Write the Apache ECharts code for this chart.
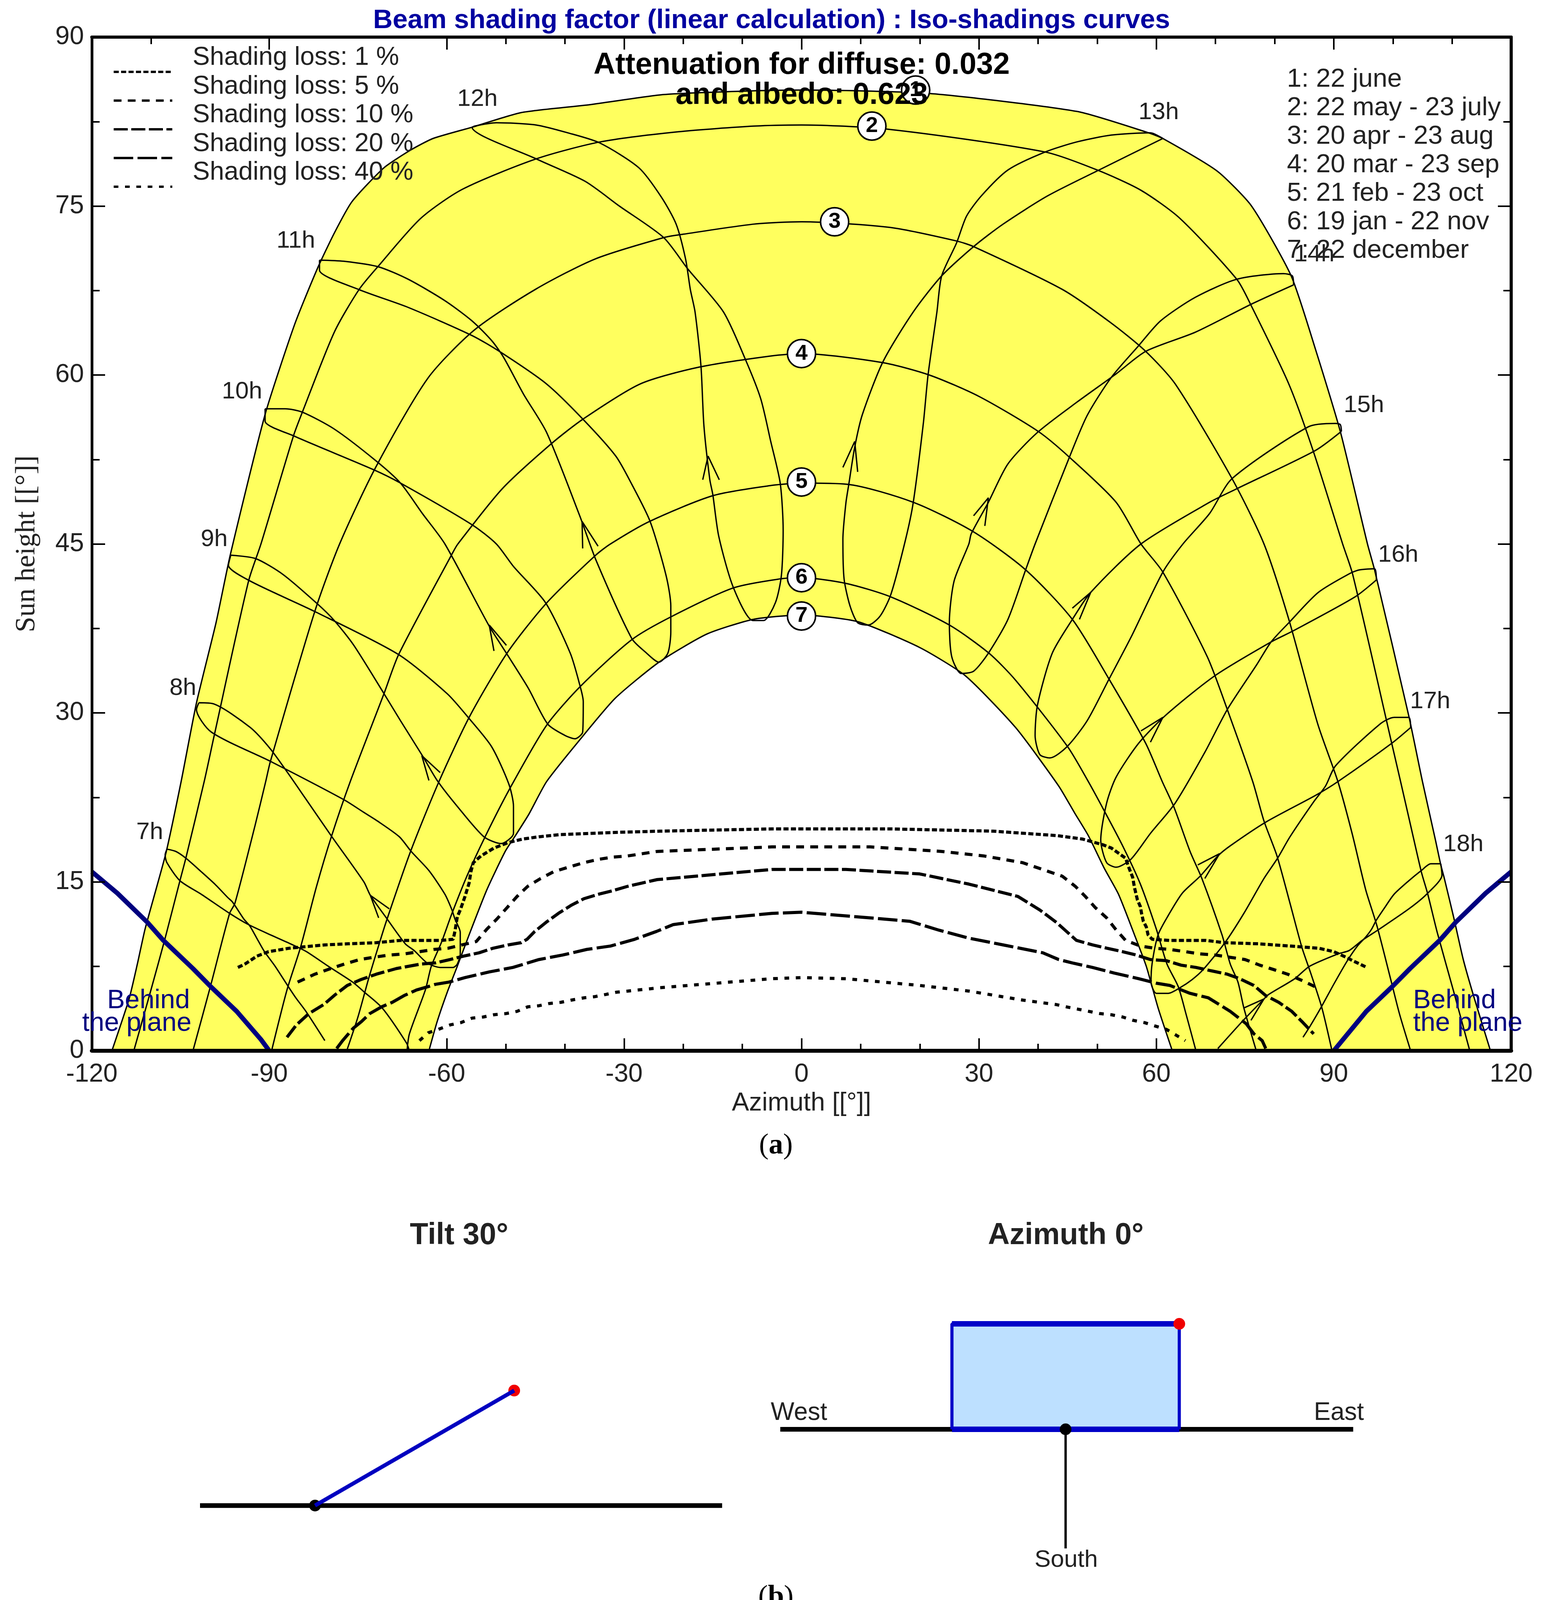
<!DOCTYPE html>
<html lang="en">
<head>
<meta charset="UTF-8">
<title>Beam shading factor</title>
<style>
    html, body { margin: 0; padding: 0; background: #fff; }
    #chart { width: 3952px; height: 4160px; }
</style>
</head>
<body>
<div id="chart"></div>
<script src="https://cdn.jsdelivr.net/npm/echarts@6/dist/echarts.min.js"></script>
<script>
// sun paths, [azimuth, height]
var curve1 = [[-116.6,0],[-113.7,4.6],[-112.3,7.7],[-111,10.8],[-109,14.6],[-107.4,17.7],[-104.9,23.9],[-102.3,30.9],[-99,38],[-96.6,44],[-90.7,56.5],[-85.7,64.5],[-81.9,69.4],[-79,72.6],[-76,75.4],[-70.6,78.4],[-66,80],[-62.3,81],[-55.7,82],[-47.4,83.3],[-35.8,84],[-23.3,84.9],[-10,85.2],[0,85.3],[21.6,85],[46.6,83.4],[58.7,81.5],[61.1,81],[70.3,78.1],[76.1,75],[82.8,68.8],[86.9,62.3],[91.1,55],[95.7,45],[96.9,42.7],[102.7,29.7],[105,23.9],[107.2,18.7],[108.1,16.5],[108.7,15.3],[110.3,11.8],[111.9,8.1],[113.8,4.6],[116.5,0]];
var curve2 = [[-112.9,0],[-110,5.4],[-107.6,10],[-105.1,15.1],[-104.1,17.1],[-101,23.9],[-99.3,28],[-93.5,41.7],[-91.4,45],[-85.9,54.6],[-84.4,56.7],[-79,63.8],[-74.8,67.6],[-71.5,69.7],[-64.4,73.9],[-57.3,76.5],[-44.8,79.2],[-34,80.7],[-20.8,81.6],[-8,82.1],[0,82.2],[15,81.8],[41.2,79.8],[50,78.2],[57.4,76.4],[64,73.9],[73.6,68.5],[76,66.2],[82.4,59.2],[86.5,53.3],[91.5,45],[93.2,42.3],[99.8,27.3],[101.3,23.9],[103,20],[104.8,15.9],[105.9,13.9],[107.5,10.5],[110.2,5.4],[113,0]];
var curve3 = [[-102.9,0],[-99.9,5.8],[-96.7,12.2],[-95.8,13.1],[-92.4,20],[-90.6,23.9],[-89.8,25.7],[-82.3,39],[-78.1,45],[-72,51.8],[-63.2,59.7],[-55.3,64],[-45,67.6],[-34.9,70.3],[-23.3,72.2],[-20,72.5],[-8,73.4],[0,73.6],[15,73.1],[26.2,71.9],[29.1,71.4],[44.1,67.6],[52.4,64.6],[58.2,62.1],[63.2,59.2],[72.8,50.8],[78.2,45],[82.4,38.3],[87.3,29],[90.7,23.9],[93.1,19.3],[95.4,14.3],[97.3,11.1],[99.6,6.4],[101.1,3.3],[103,0]];
var curve4 = [[-89.6,0],[-87,5.4],[-84.7,9.2],[-82,14.6],[-79.5,19],[-76.3,23.9],[-70.6,31.7],[-68.1,35.2],[-59,44.2],[-58.1,45],[-50.6,49.9],[-42.3,53.9],[-36.9,56.1],[-27.3,59.2],[-17.3,60.7],[-5,61.7],[0,61.9],[13.7,61.1],[21.6,60],[30,58.1],[40,55],[45.3,52.7],[53.2,48.7],[57.4,45],[61.1,42.5],[68.6,35],[72,30.3],[76.3,23.9],[78.2,20.4],[80.4,17.3],[82.6,13.1],[84.6,9.2],[86.1,6.9],[88,3.8],[89.7,0]];
var curve5 = [[-76.9,0],[-75,3],[-73.2,6.4],[-71.7,9],[-70.2,11.5],[-66.1,17.7],[-61.3,23.9],[-56.1,29.7],[-49.8,35.3],[-43.2,39.7],[-34.8,44],[-32.3,45],[-25.7,47],[-14.9,49.3],[-5,50.2],[0,50.4],[7.7,50.3],[18.9,48.7],[29,46.1],[37.9,42.7],[45.8,38.3],[52,33],[58.2,27.3],[61,23.9],[63,21.6],[65.7,17.7],[67.7,15.3],[71.1,10.3],[72.5,7.7],[73.8,6.1],[74.8,3.8],[76.9,0]];
var curve6 = [[-66.7,0],[-66.3,1.5],[-63.6,5.4],[-62.6,7.5],[-60.9,9.6],[-59.1,12.2],[-56.5,15.6],[-53.5,19],[-49.3,23.3],[-43.1,28.9],[-37.3,32.4],[-28.7,36.5],[-21.8,38.6],[-11.5,41.1],[-3.6,41.9],[0,42],[7.5,41.5],[15.1,40.3],[25,37.8],[31.7,35.3],[36.2,32.9],[45,27],[48.5,23.9],[51.2,21.3],[54.3,18.2],[57.3,14.8],[60,10.8],[61.8,7.7],[63.7,5.7],[65,3.3],[66.7,0]];
var curve7 = [[-63,0],[-61.6,2.6],[-59.9,5.2],[-58.2,7.5],[-56.2,10.3],[-53.2,14.3],[-50.1,17.7],[-48.5,19],[-46.1,21],[-43.1,23.9],[-37.5,27.6],[-31.5,31.3],[-24.1,34.5],[-16,37],[-8.2,38.3],[0,38.7],[9.5,38.1],[20,35.8],[27.7,33.3],[36.2,28.7],[43.5,23.5],[46.2,21.1],[48.5,19.1],[51.2,16.2],[53.6,13.9],[56.3,10.3],[58.3,7.5],[60.3,3.8],[62.7,0]];

// hour loops
var hour7a = [[-107.3,17.9],[-105.8,17.7],[-104.1,17.1],[-101.5,15.9],[-99.2,14.8],[-97,13.6],[-96.2,13.2],[-94.3,11.7],[-93.3,11.1],[-91.9,9.8],[-90.8,8.8],[-89,7.5],[-86.9,5.8],[-85.5,4.7],[-83.8,3.5],[-80.6,0.9]];
var hour7b = [[-107.3,17.9],[-107.6,17.4],[-107.3,16.7],[-105.1,15.1],[-101.5,13.9],[-96.7,12.2],[-93.5,11.2],[-89.4,10.2],[-86,9.4],[-83.7,8.8],[-80,7.5],[-75.9,6.1],[-73.9,5.2],[-70.9,3.8],[-66.8,0.7],[-66.3,0]];
var hour8 = [[-101.9,30.9],[-99.4,30.8],[-93.2,28.7],[-89.8,26.8],[-86.9,24.7],[-84,22.5],[-79.4,19],[-74,15],[-72.9,13.8],[-70.2,11.8],[-67,9.5],[-65.5,8.9],[-63.3,7.8],[-61.1,7.4],[-58.9,7.4],[-58.2,7.7],[-57.7,8.6],[-57.7,10.5],[-58.6,11.7],[-59.1,12.5],[-60.3,13.9],[-63,16],[-66,17.7],[-68,19],[-71.7,20.4],[-74.1,21.2],[-77.4,22.3],[-89.8,25.7],[-99.8,28.3],[-102.3,30.3],[-101.9,30.9]];
var hour9 = [[-96.5,44],[-92.3,43.7],[-87.7,42.3],[-81.9,39.7],[-79,38.2],[-75.7,36],[-70.7,31.8],[-67.8,29.3],[-64.1,26.2],[-61.6,24],[-58.2,21.7],[-53.7,19],[-50.8,18.4],[-48.7,19.3],[-48.7,21.7],[-49.5,23.7],[-52.4,27],[-56.2,29.5],[-59.9,31.7],[-68.2,35.2],[-82.3,39],[-93.2,41.7],[-96.9,43.1],[-96.5,44]];
var hour10 = [[-90.7,57],[-87.3,57],[-84.4,56.7],[-79,55.2],[-72,52.4],[-67.8,50.4],[-64.1,47.7],[-60.3,45],[-52.8,37.7],[-49.9,35.3],[-46.2,32.2],[-42.9,29],[-40,28],[-38.3,27.7],[-37,28.3],[-36.9,31],[-37.5,32.5],[-39.1,35.3],[-43.3,39.8],[-48.7,43],[-51.6,45],[-55.7,46.7],[-67.8,50.4],[-72.4,51.6],[-85.9,54.6],[-90.7,55.9],[-90.7,57]];
var hour11 = [[-81.5,70.2],[-77.4,70.1],[-71.5,69.6],[-66.5,68.5],[-60.3,66.6],[-55.7,64.8],[-52.3,63],[-50.3,61.5],[-47,58.3],[-43.1,54.9],[-37.5,47.5],[-34.7,43.5],[-28.7,36.6],[-26.4,35.4],[-24.1,34.5],[-22.6,35.3],[-22.1,37.2],[-22.1,39.5],[-22.9,42.2],[-25.6,47],[-28.7,50.3],[-31.4,52.8],[-37,56.1],[-43.1,59.2],[-50.8,62],[-55.7,63.5],[-66.5,66],[-74.9,67.6],[-81.5,69.3],[-81.5,70.2]];
var hour12 = [[-55.3,82.1],[-51.6,82.4],[-44.9,82.2],[-39.5,81.5],[-34.1,80.6],[-27.5,78.4],[-23.7,75.8],[-21.2,73.4],[-19.6,70.3],[-18.8,67.6],[-18,65.6],[-17,60.8],[-16.5,55.5],[-15.5,50.7],[-15,49.4],[-14,45.7],[-11.5,41.1],[-8.2,38.2],[-6.4,38.2],[-4.4,39.8],[-3.4,42.2],[-3.1,46.2],[-3.6,50.4],[-5.2,54.1],[-6.9,57.9],[-9.5,61.4],[-13.2,65.6],[-19.2,69.4],[-23.3,72.2],[-30.8,75],[-36.6,77.2],[-44.9,79.2],[-55.7,82],[-55.3,82.1]];
var hour13 = [[61.1,81],[50.3,78.2],[41.6,75.9],[34.1,73.4],[29.1,71.4],[23.7,68.8],[18.9,65.6],[13.8,61.2],[10.3,56.5],[9,53.6],[8,50.3],[7.5,48.6],[7,45.4],[7.2,41.9],[8.2,39.5],[9.5,38],[11.3,37.8],[13.3,38.6],[15.1,40.5],[17.6,45.4],[18.9,48.7],[20.6,55.7],[21.4,60],[22.9,65.6],[23.7,68.8],[26.2,71.7],[27.9,74.1],[30.4,75.9],[34.9,78.2],[41.2,79.8],[46.6,80.7],[52.4,81.3],[59,81.5],[61.1,81]];
var hour14 = [[83.2,68],[76.1,66.3],[66.6,63.8],[58.2,62.1],[53.2,60.1],[46.6,57.6],[39.9,54.9],[34.9,52.1],[31.6,48.7],[28.7,45.9],[28.3,45],[25.8,41.7],[25,38],[25.4,35],[27,33.5],[29.1,33.7],[31.6,35.3],[34.9,38.3],[37.9,42.7],[39.5,45],[45.3,52.7],[48.3,56.4],[52.4,59.8],[57,62.6],[60.7,64.8],[66.6,66.9],[73.6,68.5],[81.5,69],[83,68.8],[83.2,68]];
var hour15 = [[91.3,55],[86.9,53.3],[73.6,49.9],[69,48.7],[57.4,45],[48.9,40.7],[45.8,38.3],[42.4,35.3],[39.9,30.7],[39.5,28],[40.3,26.3],[42,26],[44.9,27],[48.3,29.3],[52,33],[55.7,36.7],[61.1,42.5],[64.5,45],[69,47.7],[72.8,50.8],[85.7,55.4],[90.3,55.7],[91.1,55.6],[91.3,55]];
var hour16 = [[97.2,41.8],[93.6,40.3],[83.2,37.3],[79.4,36.3],[69.9,33.3],[61.6,29.8],[57,27.3],[53.2,24.3],[51.6,22],[50.6,18.7],[51.6,16.7],[53.2,16.3],[55.7,17],[59,19.3],[63.2,22],[68.2,26.5],[72,30.3],[77,34.3],[79.4,36.3],[82.4,38],[87.4,40.7],[92.8,42.4],[94.4,42.7],[96.9,42.8],[97.2,41.8]];
var hour17 = [[103,28.7],[99.8,27.3],[90.7,23.9],[87,22.7],[78.5,20.3],[72.5,18.2],[70.4,17.3],[67.4,15.5],[64.4,14],[62,12],[60.3,10.3],[59.3,7.8],[59.1,6.1],[60,5.1],[62,5.1],[64,5.6],[66,6.3],[67.9,7.2],[71.6,9.6],[74.8,12.2],[78.2,15.3],[80.5,17.1],[82.6,19],[86.6,22.1],[88.6,23.5],[90.3,25.3],[97.8,29],[100.2,29.6],[102.7,29.6],[103,28.7]];
var hour18a = [[108.1,16.6],[106.4,16.6],[104.8,16],[102.7,15.1],[100.2,13.9],[98.6,12.7],[97.2,11.6],[96.4,10.8],[95.4,10.1],[94,9.3],[92.3,8],[90.1,6],[87.8,3.8],[85.9,2.1],[84.8,1.2]];
var hour18b = [[108.1,16.6],[108.3,15.6],[105.7,13.9],[102.7,12.6],[97.7,10.8],[94.8,9.8],[92.6,8.9],[90.7,8.6],[85.9,7.5],[83.4,6.4],[79,5],[78.2,4.6],[74.7,2.7],[70.4,0.2]];

// small arrow heads on the hour loops: barb, tip, barb
var arrowHeads = [
    [[-71.5,11.8],[-72.9,13.8],[-69.7,12.6]],
    [[-63,24],[-64.2,26.2],[-61.1,24.7]],
    [[-52,35.5],[-52.8,37.8],[-49.9,36]],
    [[-37,44.6],[-37.1,47],[-34.4,44.8]],
    [[-16.7,50.7],[-15.8,52.8],[-13.9,50.7]],
    [[7,51.8],[9,54.1],[9.5,51.4]],
    [[29.1,47.5],[31.6,49.1],[31,46.6]],
    [[45.8,39.3],[48.9,40.7],[47,38.3]],
    [[57.4,28.4],[61.1,29.6],[59,27.4]],
    [[67,16.5],[70.7,17.5],[68.2,15.3]],
    [[74.8,3.8],[78.2,4.6],[76,2.7]]
];

// iso-shading curves
var iso1 = [[-95.3,7.4],[-94.1,7.7],[-92.1,8.4],[-90.1,8.8],[-86.7,9.1],[-84.7,9.2],[-80.6,9.4],[-76.6,9.5],[-71.9,9.6],[-67.8,9.8],[-60.9,9.8],[-58.9,9.9],[-58.6,10.6],[-58.2,11.9],[-57.7,12.5],[-56.9,13.7],[-56.2,14.9],[-55.9,15.9],[-55.5,16.7],[-54.2,17.3],[-52,18],[-49.5,18.5],[-47.1,18.8],[-44.4,19],[-40.7,19.2],[-35.7,19.3],[-30.9,19.4],[-23.9,19.5],[-5,19.7],[15,19.7],[32.4,19.5],[43.3,19.1],[47.5,18.8],[50.9,18.3],[52.4,18],[53.2,17.7],[54.8,17.1],[55.4,16.2],[56,15.4],[56.3,14.5],[56.8,13.4],[57.3,12.8],[57.5,12.2],[57.8,11.5],[58.3,11],[58.6,10.3],[59.3,9.9],[62.2,9.8],[68.4,9.8],[71.4,9.6],[77.2,9.5],[82.6,9.3],[87.5,9.1],[90,8.8],[92.1,8.3],[93.2,8],[94.8,7.6],[95.6,7.4]];
var iso5 = [[-85.2,6.1],[-82.3,6.8],[-79.6,7.3],[-77.3,7.7],[-74.7,8.1],[-72.4,8.3],[-69.7,8.5],[-67.2,8.6],[-64.6,8.8],[-62.1,9],[-59.8,9.1],[-55,9.7],[-53.2,10.8],[-51.5,11.7],[-49.8,12.7],[-48.1,13.7],[-46.3,14.6],[-44.1,15.3],[-41.9,15.9],[-39.4,16.3],[-36.8,16.7],[-34.3,17],[-31.8,17.2],[-29.4,17.3],[-26.9,17.5],[-24.4,17.7],[-5,18.1],[11.6,18.1],[23.7,17.7],[30.8,17.3],[37.4,16.7],[44.1,15.5],[46.3,14.6],[48,13.7],[49.7,12.7],[51.6,11.8],[53.1,10.8],[54.8,9.8],[57.3,9.3],[59.8,9.1],[62.3,9],[64.9,8.8],[67.4,8.6],[70,8.5],[72.5,8.3],[75,8.1],[77.5,7.6],[79.9,7.2],[82.2,6.8],[84.8,6.2],[86.8,5.7]];
var iso10 = [[-87,1.2],[-85.4,2.3],[-83.3,3.3],[-80.8,4.1],[-78.8,5],[-76.8,5.8],[-74.6,6.3],[-71.9,6.8],[-68.5,7.3],[-64.4,7.7],[-61.9,7.8],[-59.4,8.1],[-57.2,8.4],[-54.5,8.7],[-52.2,9.1],[-49.6,9.4],[-47.4,9.6],[-46.4,9.9],[-45.1,10.6],[-43.2,11.4],[-41.1,12.2],[-39,12.9],[-36.8,13.5],[-34.3,13.9],[-32,14.2],[-29.4,14.6],[-26.9,14.9],[-24.4,15.2],[-5,16.1],[7.5,16.1],[20,15.7],[28.3,14.8],[36.6,13.7],[40.3,12.5],[43.1,11.4],[44.8,10.6],[46.5,9.8],[49.2,9.4],[51.7,9.1],[54.3,8.8],[56.6,8.5],[59,8.1],[61.7,8],[64.2,7.6],[66.7,7.4],[69.3,7.1],[72,6.8],[74.1,6.4],[76.5,5.8],[78.5,4.9],[80.7,4.3],[82.9,3.5],[84.8,2.5],[86.6,1.5]];
var iso20 = [[-78.6,0.2],[-77.6,0.9],[-75.8,2],[-74.4,2.6],[-73,3.3],[-71,3.9],[-69.2,4.3],[-67.2,4.9],[-65.1,5.4],[-63.1,5.7],[-61.9,5.9],[-59.6,6.1],[-56.9,6.5],[-52.8,7],[-48.8,7.4],[-44.4,8.1],[-40.4,8.5],[-36.3,9],[-32.3,9.3],[-28.2,9.9],[-24.5,10.6],[-21.7,11.2],[-15,11.7],[-5,12.2],[0,12.3],[11.6,11.8],[18.3,11.5],[23.3,10.7],[28.3,10],[34.1,9.4],[40.8,8.7],[43.5,8.1],[45.8,7.8],[49.2,7.4],[52.9,6.9],[57,6.4],[60,6],[62.3,5.8],[65.7,5.1],[68.8,4.7],[72.5,3.5],[75.2,2.4],[76.5,1.5],[77.9,0.9],[78.5,0.2]];
var iso40 = [[-64.6,0.9],[-63.1,1.6],[-61.4,1.9],[-59.4,2.3],[-57.6,2.5],[-55.7,2.9],[-53.8,3],[-52,3.2],[-50,3.3],[-48.1,3.5],[-46.3,3.9],[-44.4,4],[-42.6,4.2],[-40.7,4.3],[-38.9,4.5],[-36.8,4.7],[-35,4.8],[-33.1,5],[-31.3,5.2],[-29.4,5.3],[-27.6,5.4],[-25.7,5.5],[-23.9,5.6],[-5,6.4],[0,6.5],[7.5,6.4],[20,5.8],[28.3,5.3],[37.4,4.5],[43.1,4.1],[44.8,3.9],[46.7,3.7],[48.6,3.5],[50.5,3.3],[52.4,3.2],[54.3,3],[56.1,2.7],[58,2.5],[59.8,2.2],[61.7,1.9],[63.3,1.4],[64.9,0.9]];
var isoNames = ['Shading loss: 1 %', 'Shading loss: 5 %', 'Shading loss: 10 %', 'Shading loss: 20 %', 'Shading loss: 40 %'];

var planeLimitLeft = [[-120,15.9],[-115.7,14],[-110.6,11.4],[-107.9,9.8],[-102.9,7.3],[-99.9,5.7],[-95.5,3.5],[-91.4,1],[-90,0]];
var planeLimitRight = [[90,0],[95.5,3.5],[99.9,5.7],[102.9,7.3],[107.9,9.8],[110.6,11.4],[115.7,14],[120,15.9]];

// numbered markers on the sun paths and hour labels
var dateMarks = [[19.3,85.3,'1'],[11.9,82.1,'2'],[5.6,73.6,'3'],[0,61.9,'4'],[0,50.5,'5'],[0,42,'6'],[0,38.6,'7']];
var hourLabels = [[-110.2,19.4,'7h'],[-104.6,32.2,'8h'],[-99.3,45.4,'9h'],[-94.6,58.5,'10h'],[-85.5,71.9,'11h'],[-54.8,84.5,'12h'],[60.4,83.3,'13h'],[86.7,70.7,'14h'],[95.1,57.3,'15h'],[100.9,44,'16h'],[106.3,31,'17h'],[111.9,18.3,'18h']];
var dateLegend = ['1: 22 june', '2: 22 may - 23 july', '3: 20 apr - 23 aug', '4: 20 mar - 23 sep', '5: 21 feb - 23 oct', '6: 19 jan - 22 nov', '7: 22 december'];

var xTicksMajorBottom = [-60,-30,0,30,60];
var xTicksMinorBottom = [-50,-40,-20,-10,10,20,40,50];
var xTicksMajorTop = [-90,-60,-30,0,30,60,90];
var xTicksMinorTop = [-110,-50,-40,-20,-10,10,20,40,50,70,80,100,110];

// panel (b), in plane lengths
var tiltGround = [[-0.5,0],[1.77,0]];
var tiltPlane = [[0,0],[0.866,0.5]];
var tiltPivot = [[0,0]];
var tiltTop = [[0.866,0.5]];
var azGround = [[-1.255,0],[1.265,0]];
var azPlane = [[-0.5,0],[-0.5,1],[0.5,1],[0.5,0]];
var azTopEdge = [[-0.5,1],[0.5,1]];
var azBottomEdge = [[-0.5,0],[0.5,0]];
var azSouth = [[0,0],[0,-1.13]];
var azPivot = [[0,0]];
var azCorner = [[0.5,1]];

var sans = '"Liberation Sans", Arial, sans-serif';
var serif = '"Liberation Serif", "Times New Roman", serif';
var textColor = '#222';
var navy = '#00007f';

function thinLine(name, data, z) {
    return { name: name, type: 'line', data: data, symbol: 'none', smooth: 0.25, z: z || 3,
        lineStyle: { color: '#000', width: 3.5 }, silent: true };
}

var series = [];
// the yellow band: curve 1 filled to the axis, curve 7 blanked back to white
series.push({ type: 'line', data: curve1, symbol: 'none', smooth: 0.2, z: 1,
    lineStyle: { color: '#000', width: 3.5 }, areaStyle: { color: '#ffff5e', opacity: 1 } });
series.push({ type: 'line', data: curve7, symbol: 'none', smooth: 0.2, z: 2,
    lineStyle: { color: '#000', width: 3.5 }, areaStyle: { color: '#fff', opacity: 1 } });
[curve2, curve3, curve4, curve5, curve6].forEach(function (c) { series.push(thinLine('', c)); });
[hour7a, hour7b, hour8, hour9, hour10, hour11, hour12, hour13, hour14, hour15, hour16, hour17, hour18a, hour18b].forEach(function (c) {
    series.push(thinLine('', c));
});
arrowHeads.forEach(function (a) {
    series.push({ type: 'line', data: a, symbol: 'none', z: 3, lineStyle: { color: '#000', width: 3.5 } });
});

var isoData = [iso1, iso5, iso10, iso20, iso40];
var isoDash = [[13,6],[20,16],[36,9],[50,11],[12,17]];
isoData.forEach(function (d, i) {
    series.push({ name: isoNames[i], type: 'line', data: d, symbol: 'none', z: 4,
        lineStyle: { color: '#000', width: 8, type: isoDash[i] } });
});

[planeLimitLeft, planeLimitRight].forEach(function (d) {
    series.push({ type: 'line', data: d, symbol: 'none', z: 5, lineStyle: { color: navy, width: 12 } });
});

series.push({ type: 'scatter', data: hourLabels, symbol: 'circle', symbolSize: 1, z: 6,
    itemStyle: { color: 'rgba(0,0,0,0)', opacity: 1 },
    label: { show: true, position: 'inside', color: textColor, fontFamily: sans, fontSize: 62,
        formatter: function (p) { return p.value[2]; } } });
series.push({ type: 'scatter', data: dateMarks, symbolSize: 72, z: 6,
    itemStyle: { color: '#fff', opacity: 1, borderColor: '#000', borderWidth: 4 },
    label: { show: true, position: 'inside', color: '#000', fontFamily: sans, fontWeight: 'bold', fontSize: 56,
        formatter: function (p) { return p.value[2]; } } });

// panel (b)
series.push({ type: 'line', xAxisIndex: 4, yAxisIndex: 2, data: tiltGround, symbol: 'none', lineStyle: { color: '#000', width: 12 } });
series.push({ type: 'line', xAxisIndex: 4, yAxisIndex: 2, data: tiltPlane, symbol: 'none', lineStyle: { color: '#0000c0', width: 10 } });
series.push({ type: 'scatter', xAxisIndex: 4, yAxisIndex: 2, data: tiltPivot, symbolSize: 30, itemStyle: { color: '#000', opacity: 1 } });
series.push({ type: 'scatter', xAxisIndex: 4, yAxisIndex: 2, data: tiltTop, symbolSize: 30, itemStyle: { color: '#f00000', opacity: 1 } });
series.push({ type: 'line', xAxisIndex: 5, yAxisIndex: 3, data: azGround, symbol: 'none', lineStyle: { color: '#000', width: 12 } });
series.push({ type: 'line', xAxisIndex: 5, yAxisIndex: 3, data: azPlane, symbol: 'none', z: 3,
    lineStyle: { color: '#0000c8', width: 8 }, areaStyle: { color: '#bde0ff', opacity: 1 } });
[azTopEdge, azBottomEdge].forEach(function (d) {
    series.push({ type: 'line', xAxisIndex: 5, yAxisIndex: 3, data: d, symbol: 'none', z: 3, lineStyle: { color: '#0000c8', width: 14 } });
});
series.push({ type: 'line', xAxisIndex: 5, yAxisIndex: 3, data: azSouth, symbol: 'none', z: 4, lineStyle: { color: '#000', width: 6 } });
series.push({ type: 'scatter', xAxisIndex: 5, yAxisIndex: 3, data: azPivot, symbolSize: 30, z: 5, itemStyle: { color: '#000', opacity: 1 } });
series.push({ type: 'scatter', xAxisIndex: 5, yAxisIndex: 3, data: azCorner, symbolSize: 30, z: 5, itemStyle: { color: '#f00000', opacity: 1 } });

function tickAxis(position, values, length, extra) {
    var axis = { type: 'value', gridIndex: 0, position: position, min: -120, max: 120, interval: 30, z: 10,
        splitLine: { show: false }, axisLabel: { show: false },
        axisLine: { show: false, onZero: false },
        axisTick: { show: true, inside: true, length: length, customValues: values, lineStyle: { color: '#000', width: 4 } } };
    return Object.assign(axis, extra || {});
}

function hiddenAxis(grid, min, max) {
    return { type: 'value', gridIndex: grid, min: min, max: max, show: false };
}

var graphicText = [];
function addText(text, x, y, style) {
    graphicText.push({ type: 'text', x: x, y: y, z: 50, silent: true,
        style: Object.assign({ text: text, fill: textColor, font: '62px ' + sans, textAlign: 'center', textVerticalAlign: 'middle' }, style || {}) });
}

addText('Attenuation for diffuse: 0.032', 2052, 168, { fill: '#000', font: 'bold 77px ' + sans });
addText('and albedo: 0.623', 2052, 245, { fill: '#000', font: 'bold 77px ' + sans });
dateLegend.forEach(function (t, i) {
    addText(t, 3294, 204 + i * 73, { textAlign: 'left', font: '67px ' + sans });
});
addText('Behind', 486, 2562, { textAlign: 'right', fill: navy, font: '68px ' + sans });
addText('the plane', 490, 2620, { textAlign: 'right', fill: navy, font: '68px ' + sans });
addText('Behind', 3617, 2562, { textAlign: 'left', fill: navy, font: '68px ' + sans });
addText('the plane', 3617, 2620, { textAlign: 'left', fill: navy, font: '68px ' + sans });
addText('Tilt 30°', 1175, 3164, { font: 'bold 77px ' + sans });
addText('Azimuth 0°', 2728, 3164, { font: 'bold 77px ' + sans });
addText('West', 2045, 3617, { font: '64px ' + sans });
addText('East', 3427, 3617, { font: '64px ' + sans });
addText('South', 2729, 3994, { font: '62px ' + sans });

var captionRich = { n: { fill: '#000', font: '74px ' + serif }, b: { fill: '#000', font: 'bold 74px ' + serif } };
addText('{n|(}{b|a}{n|)}', 1986, 2934, { rich: captionRich });
addText('{n|(}{b|b}{n|)}', 1986, 4090, { rich: captionRich });

// one legend per row: a blank second text line drops the sample below its text
var legends = isoNames.map(function (name, i) {
    return { data: [name], orient: 'vertical', left: 288, top: 112 + i * 73.5, z: 8, selectedMode: false,
        padding: 0, itemWidth: 150, itemHeight: 16,
        formatter: function (n) { return n + '\n '; },
        itemStyle: { opacity: 0 },
        lineStyle: { color: '#000', width: 6, opacity: 1 },
        textStyle: { color: textColor, fontFamily: sans, fontSize: 66, lineHeight: 72, padding: [0, 0, 0, 47] } };
});

var myChart = echarts.init(document.getElementById('chart'), null, { renderer: 'canvas' });
var option = {
    animation: false,
    backgroundColor: '#fff',
    title: {
        text: 'Beam shading factor (linear calculation) : Iso-shadings curves',
        left: 1970, top: 13, textAlign: 'center',
        textStyle: { color: '#0000a0', fontFamily: sans, fontWeight: 'bold', fontSize: 69 }
    },
    legend: legends,
    grid: [
        { left: 235, top: 95, width: 3633, height: 2595 },
        { left: 512, top: 3501, width: 1354, height: 412 },
        { left: 1971, top: 3362, width: 1513, height: 621 }
    ],
    xAxis: [
        tickAxis('bottom', xTicksMajorBottom, 32, {
            name: 'Azimuth [[°]]', nameLocation: 'middle', nameGap: 102,
            nameTextStyle: { color: textColor, fontFamily: sans, fontSize: 66 },
            axisLine: { show: true, onZero: false, lineStyle: { color: '#000', width: 10 } },
            axisLabel: { show: true, color: textColor, fontFamily: sans, fontSize: 66, margin: 28 }
        }),
        tickAxis('bottom', xTicksMinorBottom, 18),
        tickAxis('top', xTicksMajorTop, 32, {
            axisLine: { show: true, onZero: false, lineStyle: { color: '#000', width: 8 } }
        }),
        tickAxis('top', xTicksMinorTop, 18),
        hiddenAxis(1, -0.5, 1.8),
        hiddenAxis(2, -1.3, 1.3)
    ],
    yAxis: [
        { type: 'value', gridIndex: 0, position: 'left', min: 0, max: 90, interval: 15, z: 10,
            name: 'Sun height [[°]]', nameLocation: 'middle', nameRotate: 90, nameGap: 130,
            nameTextStyle: { color: textColor, fontFamily: serif, fontSize: 72 },
            splitLine: { show: false },
            axisLine: { show: true, onZero: false, lineStyle: { color: '#000', width: 7 } },
            axisTick: { show: true, inside: true, length: 34, lineStyle: { color: '#000', width: 4 } },
            minorTick: { show: true, splitNumber: 2, length: 20, lineStyle: { color: '#000', width: 4 } },
            axisLabel: { color: textColor, fontFamily: sans, fontSize: 66, margin: 20 } },
        { type: 'value', gridIndex: 0, position: 'right', min: 0, max: 90, interval: 15, z: 10,
            splitLine: { show: false }, axisLabel: { show: false },
            axisLine: { show: true, onZero: false, lineStyle: { color: '#000', width: 8 } },
            axisTick: { show: true, inside: true, length: 34, lineStyle: { color: '#000', width: 4 } },
            minorTick: { show: true, splitNumber: 2, length: 20, lineStyle: { color: '#000', width: 4 } } },
        hiddenAxis(1, -0.1, 0.6),
        hiddenAxis(2, -1.2, 1.1)
    ],
    graphic: { elements: graphicText },
    series: series
};
myChart.setOption(option);
</script>
</body>
</html>
